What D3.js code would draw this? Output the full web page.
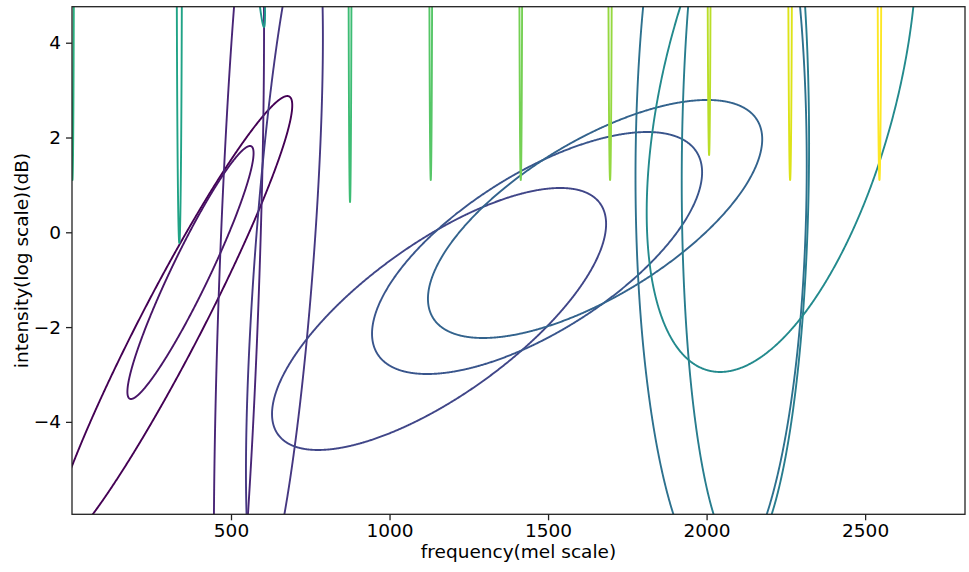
<!DOCTYPE html>
<html>
<head>
<meta charset="utf-8">
<script src="https://cdn.jsdelivr.net/npm/d3@7"></script>
<style>
  body { margin: 0; background: #fff; }
  svg text { font-family: "DejaVu Sans", sans-serif; fill: #000; }
</style>
</head>
<body>
<div id="chart"></div>
<script>
/*---------- DATA ----------*/
// One entry per mixture component, in colour order (viridis 0 -> 1).
// Each ellipse: centre (freq, intensity), vertical half-extent,
// lean (freq shift per unit intensity) and horizontal half-width at the centre.
const compFreq = [311.8, 372.2, 525, 668.5, 1156.2, 1465.3, 1648.3, 2045.8, 2122.4, 2237,
  514.4, 337, 0, 875.4, 1130, 1413.9, 1695.6, 2007.9, 2263.4, 2545.2];
const compInt = [-1.925, -0.848, -1.217, -0.479, -1.829, -0.437, 0.281, 1.3, 1.479, 3.243,
  12.331, 7.774, 9.103, 8.639, 9.103, 9.103, 9.103, 9.631, 9.103, 9.103];
const compHalfInt = [4.8, 2.669, 8.99, 7.13, 2.764, 2.553, 2.511, 8.65, 8.35, 6.19,
  8, 8, 8, 8, 8, 8, 8, 8, 8, 8];
const compLean = [76.2, 70.3, 5.32, 10.93, 138.2, 135.9, 140.7, 0.45, 1.18, 31.4,
  -11.2, 0, 0, 0, 0, 0, 0, 0, 0, 0];
const compHalfFreq = [108, 66.2, 63.1, 93, 362.8, 388, 391.2, 270, 200.6, 379,
  24.6, 8.5, 5, 5, 5, 5, 6, 5.5, 6.5, 6.5];

const xTicks = [500, 1000, 1500, 2000, 2500];
const yTicks = [-4, -2, 0, 2, 4];
const xDomain = [-1.5, 2815];
const yDomain = [-5.95, 4.76];

/*---------- PLOTTING ----------*/
const width = 969;
const height = 572;
const margin = { top: 6.7, right: 4, bottom: 57.7, left: 72 };

const svg = d3
  .select("#chart")
  .append("svg")
  .attr("width", width)
  .attr("height", height);

const x = d3.scaleLinear().domain(xDomain).range([margin.left, width - margin.right]);
const y = d3.scaleLinear().domain(yDomain).range([height - margin.bottom, margin.top]);

const color = d3
  .scaleSequential(d3.interpolateViridis)
  .domain([0, compFreq.length - 1]);

// Clip the ellipses to the axes box
svg
  .append("defs")
  .append("clipPath")
  .attr("id", "plot-clip")
  .append("rect")
  .attr("x", margin.left)
  .attr("y", margin.top)
  .attr("width", width - margin.left - margin.right)
  .attr("height", height - margin.top - margin.bottom);

/**
 * Outline of one component in data coordinates
 * @param {*} i The component index
 * @returns An array of [freq, intensity] points
 */
function ellipsePoints(i) {
  const steps = d3.range(0, 2 * Math.PI, Math.PI / 720);
  return steps.map((t) => [
    compFreq[i] + compLean[i] * compHalfInt[i] * Math.sin(t) + compHalfFreq[i] * Math.cos(t),
    compInt[i] + compHalfInt[i] * Math.sin(t),
  ]);
}

const line = d3
  .line()
  .x((d) => x(d[0]))
  .y((d) => y(d[1]))
  .curve(d3.curveLinearClosed);

svg
  .append("g")
  .attr("clip-path", "url(#plot-clip)")
  .selectAll("path")
  .data(d3.range(compFreq.length))
  .join("path")
  .attr("d", (i) => line(ellipsePoints(i)))
  .attr("fill", "none")
  .attr("stroke", (i) => color(i))
  .attr("stroke-width", 1.9);

// Axes
const xAxis = svg
  .append("g")
  .attr("transform", `translate(0,${height - margin.bottom})`)
  .call(
    d3.axisBottom(x).tickValues(xTicks).tickFormat(d3.format("d")).tickSize(6).tickPadding(4)
  );

const yAxis = svg
  .append("g")
  .attr("transform", `translate(${margin.left},0)`)
  .call(
    d3.axisLeft(y).tickValues(yTicks).tickFormat(d3.format("d")).tickSize(6).tickPadding(5)
  );

[xAxis, yAxis].forEach((g) => {
  g.select(".domain").remove();
  g.selectAll(".tick line").attr("stroke", "#222").attr("stroke-width", 1.3);
  g.selectAll(".tick text").attr("font-size", "18.5px").attr("fill", "#000");
});

// Frame
svg
  .append("rect")
  .attr("x", margin.left)
  .attr("y", margin.top)
  .attr("width", width - margin.left - margin.right)
  .attr("height", height - margin.top - margin.bottom)
  .attr("fill", "none")
  .attr("stroke", "#222")
  .attr("stroke-width", 1.3);

// Labels
svg
  .append("text")
  .attr("x", (margin.left + width - margin.right) / 2)
  .attr("y", 558)
  .attr("text-anchor", "middle")
  .attr("font-size", "18.5px")
  .text("frequency(mel scale)");

svg
  .append("text")
  .attr("transform", `translate(28,${(margin.top + height - margin.bottom) / 2}) rotate(-90)`)
  .attr("text-anchor", "middle")
  .attr("font-size", "18.5px")
  .text("intensity(log scale)(dB)");
</script>
</body>
</html>
